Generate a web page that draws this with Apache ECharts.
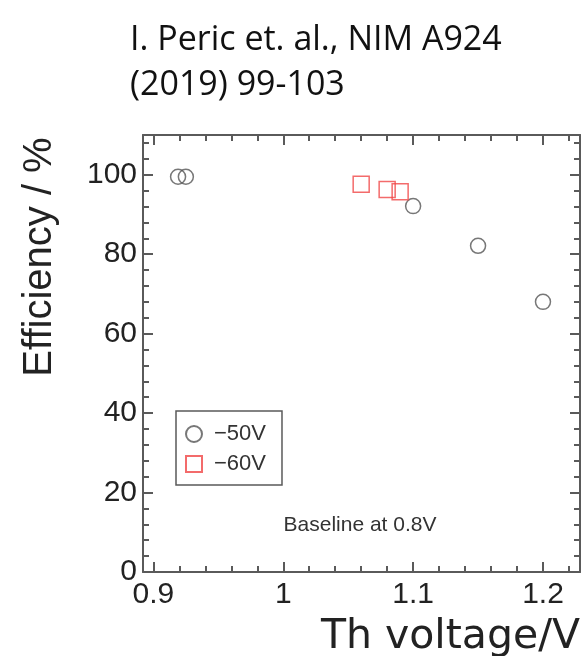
<!DOCTYPE html>
<html>
<head>
<meta charset="utf-8">
<script src="https://cdn.jsdelivr.net/npm/echarts@6/dist/echarts.min.js"></script>
<style>
  html, body { margin: 0; padding: 0; background: #fff; }
  #chart { width: 583px; height: 656px; }
</style>
</head>
<body>
<div id="chart"></div>
<script>
// -50V points
var v50x = [0.919, 0.925, 1.10, 1.15, 1.20];
var v50y = [99.5, 99.5, 92.1, 82.1, 68.0];
// -60V points
var v60x = [1.06, 1.08, 1.09];
var v60y = [97.6, 96.3, 95.7];

var xMajor = [0.9, 1.0, 1.1, 1.2];
var xMinor = [0.92, 0.94, 0.96, 0.98, 1.02, 1.04, 1.06, 1.08, 1.12, 1.14, 1.16, 1.18, 1.22];
var yMajor = [0, 20, 40, 60, 80, 100];
var yMinor = [4, 8, 12, 16, 24, 28, 32, 36, 44, 48, 52, 56, 64, 68, 72, 76, 84, 88, 92, 96, 104, 108];

var xMin = 0.892, xMax = 1.2285;
var yMin = 0, yMax = 110;

var axisColor = '#5a5a5a';
var numFont = '"Liberation Sans", Arial, sans-serif';

function pairs(xs, ys) {
  var out = [];
  xs.forEach(function (x, i) { out.push([x, ys[i]]); });
  return out;
}

// one axis per tick set (major/minor) and per side, so the frame gets ticks all round
function makeAxis(pos, vals, len, withLine, withLabel, min, max) {
  return {
    type: 'value',
    position: pos,
    min: min,
    max: max,
    axisLine: { show: withLine, onZero: false, lineStyle: { color: axisColor, width: 2 } },
    axisTick: { show: true, inside: true, length: len, customValues: vals,
      lineStyle: { color: axisColor, width: 2 } },
    axisLabel: { show: withLabel, customValues: vals, color: '#222', fontSize: 30,
      fontFamily: numFont, margin: (pos === 'left' ? 6 : 8),
      formatter: function (v) { return String(+v.toFixed(2)); } },
    splitLine: { show: false }
  };
}

var chart = echarts.init(document.getElementById('chart'));

var xAxes = [
  makeAxis('bottom', xMajor, 10, true, true, xMin, xMax),
  makeAxis('bottom', xMinor, 6, false, false, xMin, xMax),
  makeAxis('top', xMajor, 10, true, false, xMin, xMax),
  makeAxis('top', xMinor, 6, false, false, xMin, xMax)
];
xAxes[0].name = 'Th voltage/V';
xAxes[0].nameLocation = 'end';
xAxes[0].nameGap = 0;
xAxes[0].nameTextStyle = { fontFamily: '"DejaVu Sans", Verdana, sans-serif', fontSize: 41, color: '#222',
  align: 'right', verticalAlign: 'top', padding: [45, 0, 0, 0] };

var yAxes = [
  makeAxis('left', yMajor, 10, true, true, yMin, yMax),
  makeAxis('left', yMinor, 6, false, false, yMin, yMax),
  makeAxis('right', yMajor, 10, true, false, yMin, yMax),
  makeAxis('right', yMinor, 6, false, false, yMin, yMax)
];

var option = {
  backgroundColor: '#fff',
  animation: false,
  title: {
    text: 'I. Peric et. al., NIM A924\n(2019) 99-103',
    left: 125,
    top: 13,
    textStyle: { fontFamily: '"Open Sans", sans-serif', fontSize: 34, fontWeight: 'normal',
      color: '#111', lineHeight: 45 }
  },
  grid: { left: 143, right: 3, top: 135, bottom: 84, containLabel: false, outerBoundsMode: 'none' },
  xAxis: xAxes,
  yAxis: yAxes,
  legend: {
    orient: 'vertical',
    left: 176,
    top: 411,
    borderColor: axisColor,
    borderWidth: 1.5,
    padding: [12, 16, 10, 9],
    itemWidth: 16,
    itemHeight: 16,
    itemGap: 8,
    textStyle: { fontSize: 22, color: '#333', fontFamily: numFont, padding: [0, 0, 0, 7] },
    data: ['\u221250V', '\u221260V']
  },
  graphic: [
    {
      type: 'text',
      x: 40,
      y: 257,
      rotation: Math.PI / 2,
      style: { text: 'Efficiency / %', font: '40px "Liberation Sans", Arial, sans-serif',
        fill: '#222', align: 'center', verticalAlign: 'middle',
        textAlign: 'center', textVerticalAlign: 'middle' }
    },
    {
      type: 'text',
      x: 360,
      y: 525,
      style: { text: 'Baseline at 0.8V', font: '21px "Liberation Sans", Arial, sans-serif',
        fill: '#333', align: 'center', verticalAlign: 'middle',
        textAlign: 'center', textVerticalAlign: 'middle' }
    }
  ],
  series: [
    {
      name: '\u221250V',
      type: 'scatter',
      symbol: 'circle',
      symbolSize: 15,
      itemStyle: { color: 'rgba(0,0,0,0)', borderColor: '#555', borderWidth: 1.5 },
      data: pairs(v50x, v50y)
    },
    {
      name: '\u221260V',
      type: 'scatter',
      symbol: 'rect',
      symbolSize: 16,
      itemStyle: { color: 'rgba(0,0,0,0)', borderColor: '#f04646', borderWidth: 1.5 },
      data: pairs(v60x, v60y)
    }
  ]
};

chart.setOption(option);
</script>
</body>
</html>
